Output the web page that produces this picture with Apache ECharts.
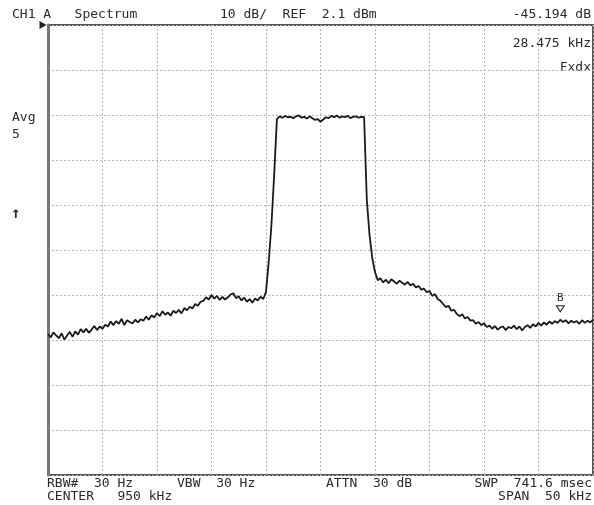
<!DOCTYPE html>
<html>
<head>
<meta charset="utf-8">
<script src="https://cdn.jsdelivr.net/npm/echarts@6/dist/echarts.min.js"></script>
<style>
html,body{margin:0;padding:0;background:#fff;}
#chart{width:594px;height:505px;}
</style>
</head>
<body>
<div id="chart"></div>
<script>
// Instrument settings
const REF_LEVEL_DBM = 2.1;      // top of screen
const DB_PER_DIV = 10;
const CENTER_KHZ = 950;
const SPAN_KHZ = 50;
const START_KHZ = CENTER_KHZ - SPAN_KHZ / 2;
const STEP_KHZ = 0.25;

// Trace values (dBm), one per 0.25 kHz from 925 kHz to 975 kHz
const traceDbm = [
  -66.6,-67.3,-66.2,-66.9,-67.5,-66.4,-67.8,-66.9,-66.1,-67.2,
  -66.0,-66.7,-65.5,-66.2,-65.4,-66.3,-65.6,-64.8,-65.7,-64.9,
  -65.4,-64.5,-64.9,-63.8,-64.6,-63.7,-64.3,-63.2,-64.6,-63.5,
  -63.9,-64.2,-63.4,-64.0,-63.3,-63.6,-62.7,-63.4,-62.4,-62.9,
  -61.9,-62.6,-61.5,-62.3,-61.8,-62.5,-61.4,-61.9,-61.2,-62.0,
  -60.8,-61.3,-60.5,-60.9,-59.9,-60.3,-59.4,-59.2,-58.4,-58.9,
  -57.9,-58.7,-58.1,-59.0,-58.3,-58.9,-58.4,-57.8,-57.5,-58.6,
  -58.2,-59.1,-58.5,-59.4,-58.8,-59.6,-58.7,-59.1,-58.3,-58.8,
  -57.2,-50.5,-42.3,-31.2,-18.8,-18.2,-18.5,-18.1,-18.4,-18.3,
  -18.6,-18.2,-18.0,-18.5,-18.3,-18.7,-18.2,-18.6,-19.0,-18.8,
  -19.4,-18.9,-18.4,-18.6,-18.1,-18.4,-18.0,-18.5,-18.2,-18.4,
  -18.1,-18.6,-18.3,-18.2,-18.5,-18.3,-18.4,-36.8,-44.6,-49.7,
  -52.8,-54.6,-54.2,-55.1,-54.5,-55.3,-54.4,-54.9,-55.4,-54.7,
  -55.2,-55.6,-55.0,-55.8,-55.4,-56.2,-55.9,-56.7,-56.5,-57.3,
  -57.0,-58.1,-57.7,-58.8,-59.2,-59.9,-60.6,-60.3,-61.4,-61.2,
  -62.1,-62.6,-62.2,-63.1,-62.8,-63.6,-63.5,-64.3,-63.9,-64.6,
  -64.2,-65.0,-64.7,-65.4,-64.8,-65.6,-65.1,-64.9,-65.7,-65.0,
  -65.3,-64.7,-65.5,-64.9,-65.8,-65.0,-64.6,-65.2,-64.4,-64.9,
  -64.1,-64.7,-64.0,-64.5,-63.8,-64.3,-63.7,-64.1,-63.4,-63.9,
  -63.5,-64.2,-63.6,-64.0,-63.7,-64.3,-63.5,-64.1,-63.6,-64.0,
  -63.4
];

// Marker B
const markerLabel = 'B';
const markerFreqKhz = 972.0;

// Annotation texts
const headerLeft = 'CH1 A   Spectrum';
const headerMid = '10 dB/  REF  2.1 dBm';
const headerRight = '-45.194 dB';
const markerFreqText = '28.475 kHz';
const markerModeText = 'Fxdx';
const avgTexts = ['Avg', '5'];
const trigText = '\u2191';
const footer1 = ['RBW#  30 Hz', 'VBW  30 Hz', 'ATTN  30 dB', 'SWP  741.6 msec'];
const footer2 = ['CENTER   950 kHz', 'SPAN  50 kHz'];

const seriesData = traceDbm.map((v, i) => [START_KHZ + i * STEP_KHZ, v - REF_LEVEL_DBM]);
const mIdx = Math.round((markerFreqKhz - START_KHZ) / STEP_KHZ);

const FONT = 'DejaVu Sans Mono';
const TXT = {fontFamily: FONT, fontSize: 13, fill: '#2a2a2a'};
function t(text, x, y, align, extra) {
  return {type: 'text', left: align === 'right' ? undefined : x, right: align === 'right' ? x : undefined, top: y,
    style: Object.assign({text: text}, TXT, extra || {})};
}

const chart = echarts.init(document.getElementById('chart'), null, {renderer: 'canvas'});
chart.setOption({
  animation: false,
  backgroundColor: '#fff',
  grid: {left: 48, right: 1, top: 25, bottom: 30, show: true, borderColor: '#555', borderWidth: 2, backgroundColor: 'transparent'},
  xAxis: {
    type: 'value', min: START_KHZ, max: START_KHZ + SPAN_KHZ, interval: SPAN_KHZ / 10,
    axisLine: {show: false}, axisTick: {show: false}, axisLabel: {show: false},
    splitLine: {show: true, lineStyle: {color: '#b4b4b4', width: 1, type: [2, 2]}}
  },
  yAxis: {
    type: 'value', min: -10 * DB_PER_DIV, max: 0, interval: DB_PER_DIV,
    axisLine: {show: true, onZero: false, lineStyle: {color: '#777', width: 3}}, axisTick: {show: false}, axisLabel: {show: false},
    splitLine: {show: true, lineStyle: {color: '#b4b4b4', width: 1, type: [2, 2]}}
  },
  series: [{
    type: 'line', data: seriesData, showSymbol: false, smooth: false,
    lineStyle: {color: '#1a1a1a', width: 1.8},
    markPoint: {
      silent: true,
      data: [
        {coord: seriesData[mIdx], symbol: 'triangle', symbolRotate: 180, symbolSize: [8, 6], symbolOffset: [0, -11],
         itemStyle: {color: '#fff', borderColor: '#222', borderWidth: 1},
         label: {show: true, formatter: markerLabel, position: 'top', distance: 2, fontFamily: FONT, fontSize: 11, color: '#333'}},
        {coord: [START_KHZ, 0], symbol: 'triangle', symbolRotate: -90, symbolSize: [8, 7], symbolOffset: [-5, 0],
         itemStyle: {color: '#222'}, label: {show: false}}
      ]
    }
  }],
  graphic: [
    t(headerLeft, 12, 8),
    t(headerMid, 220, 8),
    t(headerRight, 3, 8, 'right'),
    t(markerFreqText, 3, 37, 'right'),
    t(markerModeText, 3, 61, 'right'),
    t(avgTexts[0], 12, 111),
    t(avgTexts[1], 12, 128),
    t(trigText, 11, 206, null, {fontSize: 16, fontWeight: 'bold'}),
    t(footer1[0], 47, 477),
    t(footer1[1], 177, 477),
    t(footer1[2], 326, 477),
    t(footer1[3], 2, 477, 'right'),
    t(footer2[0], 47, 490),
    t(footer2[1], 2, 490, 'right')
  ]
});
</script>
</body>
</html>
